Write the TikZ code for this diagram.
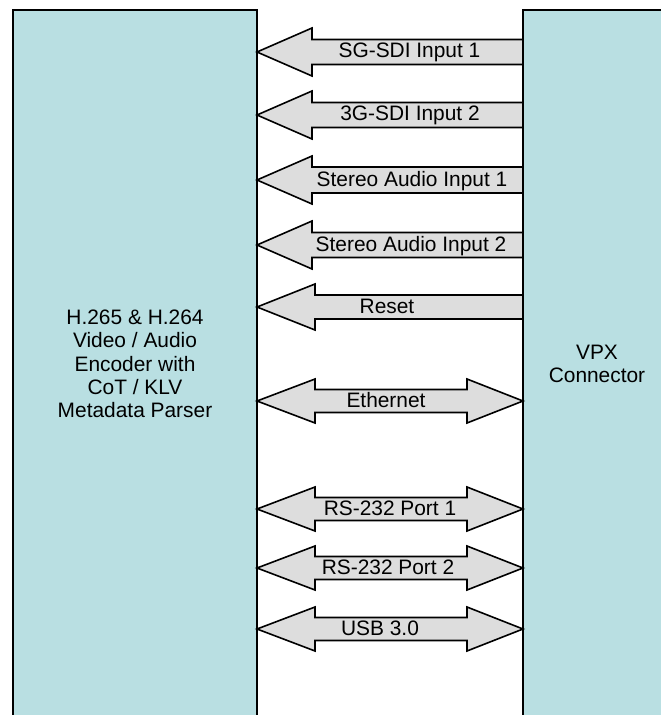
\documentclass[tikz,border=0pt]{standalone}
\usepackage{fontspec}
\setmainfont{Liberation Sans}
\usetikzlibrary{calc}
\definecolor{boxfill}{RGB}{185,223,226}
\definecolor{arrfill}{RGB}{221,221,221}
\begin{document}
\begin{tikzpicture}[x=1bp,y=-1bp,
  font=\fontsize{20.9bp}{23.25bp}\selectfont,
  blk/.style={draw=black, line width=1.6bp, fill=boxfill, inner sep=0pt, outer sep=0pt, rectangle, anchor=north west},
  arr/.style={draw=black, line width=1.6bp, fill=arrfill, line join=miter},
  lbl/.style={anchor=base, inner sep=0pt}]
\useasboundingbox (0,0) rectangle (661,715);
\clip (0,0) rectangle (661,715);
\node[blk, minimum width=244bp, minimum height=740bp] (enc) at (13,10) {};
\node[blk, minimum width=148bp, minimum height=740bp] (vpx) at (523,10) {};
\node[align=center, inner sep=0pt] (enctext) at (135,364) {H.265 \& H.264\\Video / Audio\\Encoder with\\CoT / KLV\\Metadata Parser};
\node[align=center, inner sep=0pt] (vpxtext) at (597,364) {VPX\\Connector};
% single (input) arrows
\foreach \c/\hl/\hh/\sh/\tx/\txt [count=\i] in {
  52/55/24/12.5/409.5/SG-SDI Input 1,
  115/55/24/12.5/410/3G-SDI Input 2,
  180/55/24/13/412/Stereo Audio Input 1,
  245/55/24/12.5/411/Stereo Audio Input 2,
  307/58/23/12/387/Reset}
{
  \coordinate (ys\i) at (0,\c);
  \coordinate (Ls\i) at (enc.east |- ys\i);
  \coordinate (Rs\i) at (vpx.west |- ys\i);
  \draw[arr] ($(Rs\i)+(0,-\sh)$) -- ($(Ls\i)+(\hl,-\sh)$) -- ($(Ls\i)+(\hl,-\hh)$) -- (Ls\i)
     -- ($(Ls\i)+(\hl,\hh)$) -- ($(Ls\i)+(\hl,\sh)$) -- ($(Rs\i)+(0,\sh)$) -- cycle;
  \node[lbl] (ls\i) at ({\tx},{\c+6}) {\txt};
}
% double (bidirectional) arrows
\foreach \c/\tx/\txt [count=\i] in {
  401/386/Ethernet,
  509/390/RS-232 Port 1,
  568/388/RS-232 Port 2,
  629/380/USB 3.0}
{
  \coordinate (yd\i) at (0,\c);
  \coordinate (Ld\i) at (enc.east |- yd\i);
  \coordinate (Rd\i) at (vpx.west |- yd\i);
  \draw[arr] (Ld\i) -- ($(Ld\i)+(58,-22)$) -- ($(Ld\i)+(58,-11.5)$) -- ($(Rd\i)+(-56,-11.5)$)
     -- ($(Rd\i)+(-56,-22)$) -- (Rd\i) -- ($(Rd\i)+(-56,22)$) -- ($(Rd\i)+(-56,11.5)$)
     -- ($(Ld\i)+(58,11.5)$) -- ($(Ld\i)+(58,22)$) -- cycle;
  \node[lbl] (ld\i) at ({\tx},{\c+6}) {\txt};
}
\end{tikzpicture}
\end{document}
